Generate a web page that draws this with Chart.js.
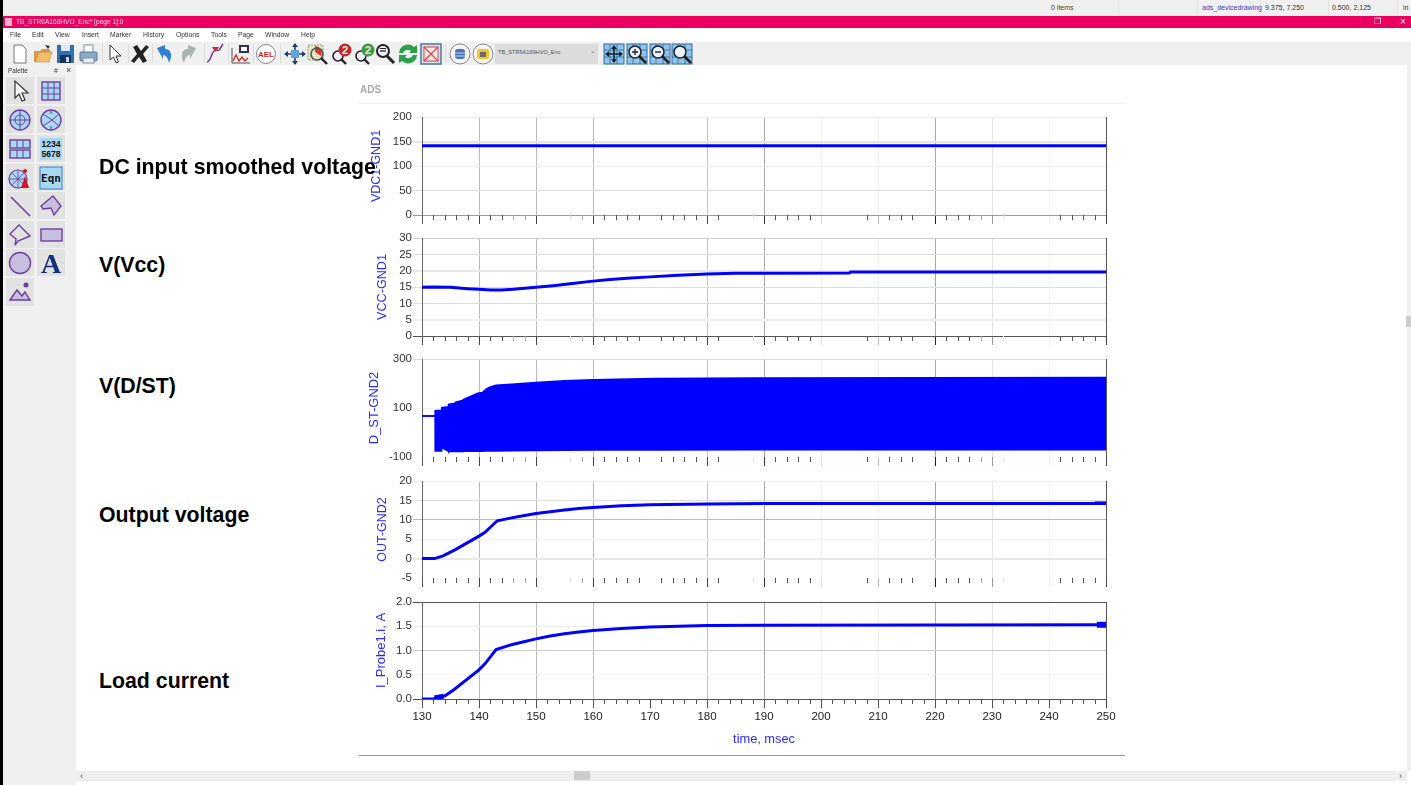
<!DOCTYPE html>
<html>
<head>
<meta charset="utf-8">
<title>ADS transient plots</title>
<script src="https://cdn.jsdelivr.net/npm/chart.js@4/dist/chart.umd.min.js"></script>
<style>
html,body{margin:0;padding:0;width:1411px;height:785px;overflow:hidden;background:#fff;font-family:'Liberation Sans',Arial,sans-serif}
.a{position:absolute}
.t{position:absolute;white-space:nowrap;line-height:1}
.chrome{filter:blur(.35px)}
canvas{position:absolute;display:block;filter:blur(.3px)}
.lbl{position:absolute;white-space:nowrap;font:bold 21.3px 'Liberation Sans',Arial,sans-serif;color:#000;left:99px;z-index:5;line-height:24px}
svg{position:absolute;overflow:visible}
</style>
</head>
<body>
<div id="ui" class="chrome"></div>
<canvas id="c1"></canvas><canvas id="c2"></canvas><canvas id="c3"></canvas><canvas id="c4"></canvas><canvas id="c5"></canvas>
<div class="lbl" style="top:155px">DC input smoothed voltage</div>
<div class="lbl" style="top:253px">V(Vcc)</div>
<div class="lbl" style="top:374px">V(D/ST)</div>
<div class="lbl" style="top:503px">Output voltage</div>
<div class="lbl" style="top:669px">Load current</div>
<script>
/* ---------- data ---------- */
const timeRange = [130, 250];
const vdcTime = [130, 250];
const vdcValues = [141.5, 141.5];
const vccTime = [130,132,135,138,140,142,144,146,150,153,156,160,163,166,170,175,180,185,190,205,205.2,250];
const vccValues = [14.9,15,14.9,14.5,14.3,14.1,14.1,14.3,14.9,15.4,16,16.8,17.3,17.7,18.1,18.6,19,19.2,19.2,19.3,19.6,19.6];
const dstTime = [130,132.3,132.31,133.4,133.45,134.6,134.65,135.8,135.85,137.2,137.25,139.8,140.6,141.3,142,143,145.7,150,155,160,171,188,250];
const dstUpper = [67,67,89,91,101,105,115,119,123,132,135,160,163,178,186,193,197,204,211,215,220,222,224];
const dstLower = [67,67,-76,-76,-62,-76,-78,-78,-78,-78,-77,-77,-77,-76,-76,-76,-75,-73,-72,-71,-71,-70,-70];
const outTime = [130,132.2,133.7,135.7,140,141,143.2,145.7,147.5,150,152.5,155,157.5,160,165,170,180,190,250];
const outValues = [0,0,0.7,2.2,5.8,6.7,9.75,10.5,11,11.6,12.1,12.5,12.9,13.2,13.6,13.85,14.1,14.2,14.2];
const outTailTime = [248,250];
const outTailValues = [14.3,14.3];
const loadTime = [130,132,133.7,134.2,135.7,140,141,143,145.7,147.5,150,152.5,155,157.5,160,165,170,175,180,190,250];
const loadValues = [0,0,0.05,0.08,0.2,0.6,0.72,1.02,1.12,1.17,1.24,1.3,1.345,1.38,1.41,1.455,1.485,1.5,1.515,1.52,1.53];
const loadNoiseTime = [132.2,133.8];
const loadNoiseValues = [0.02,0.06];
const loadTailTime = [248.4,250];
const loadTailValues = [1.53,1.53];
const xTicksMajorStep = 10;
const minorDark = [132,134,136,138,142,144,162,164,166,168,172,174,176,178,182,192,194,196,198,208,212,214,216,222,224,226,242,244,246,248];
const minorLight = [146,148,158,228];
const minorFaint = [156,188,232];
const minorAll = [132,134,136,138,142,144,146,148,152,154,156,158,162,164,166,168,172,174,176,178,182,184,186,188,192,194,196,198,202,204,206,208,212,214,216,218,222,224,226,228,232,234,236,238,242,244,246,248];
const gridColorByTime = {130:'#666',140:'#bbb',150:'#bbb',160:'#bbb',170:'transparent',180:'#c4c4c4',190:'#aaa',200:'#f0f0f0',210:'#eee',220:'#aaa',230:'#e4e4e4',240:'#f2f2f2',250:'#555'};
const tickColorByTime = {130:'#555',140:'#444',150:'#444',160:'#444',170:'transparent',180:'#444',190:'#333',200:'#ddd',210:'#bbb',220:'#222',230:'#999',240:'#eee',250:'#444'};
const tickColorBottom = {130:'#555',140:'#555',150:'#555',160:'#555',170:'#555',180:'#555',190:'#555',200:'#555',210:'#555',220:'#555',230:'#555',240:'#555',250:'#444'};

/* ---------- panel styling ---------- */
const FONT = "'Liberation Sans',Arial,sans-serif";
const BLUE = '#0000ff';
const AXISBLUE = '#2a2aff';
const CV_LEFT = 340, CV_W = 780, PLOT_L = 422, PLOT_R = 1106;

const minorTicksPlugin = {
  id: 'minorTicks',
  afterDatasetsDraw(chart, args, o) {
    const s = chart.scales.x, b = chart.chartArea.bottom, c = chart.ctx;
    c.save(); c.lineWidth = 1;
    (o.groups || []).forEach(g => {
      c.strokeStyle = g.color;
      g.values.forEach(v => {
        const x = Math.round(s.getPixelForValue(v)) + .5;
        c.beginPath(); c.moveTo(x, b); c.lineTo(x, b + 5); c.stroke();
      });
    });
    c.restore();
  }
};
const pts = (xs, ys) => xs.map((x, i) => ({x, y: ys[i]}));
const line = (xs, ys, w, extra) => Object.assign({data: pts(xs, ys), borderColor: BLUE, backgroundColor: BLUE, borderWidth: w, pointRadius: 0, tension: 0, fill: false}, extra || {});

function panel(id, top, bottom, cvBottom, titleCx, titleText, titleSize, yMin, yMax, yStep, yDecimals, yColors, yWide, datasets, isBottom) {
  const cv = document.getElementById(id);
  const cvTop = top - 8, h = cvBottom - cvTop;
  cv.width = CV_W; cv.height = h;
  cv.style.left = CV_LEFT + 'px'; cv.style.top = cvTop + 'px';
  cv.style.width = CV_W + 'px'; cv.style.height = h + 'px';
  const lh = titleSize * 1.2;
  const padL = titleCx - CV_LEFT - lh / 2;
  new Chart(cv, {
    type: 'line',
    data: {datasets},
    plugins: [minorTicksPlugin],
    options: {
      responsive: false, animation: false, events: [],
      layout: {padding: {left: padL, right: CV_W - (PLOT_R - CV_LEFT), top: 8, bottom: 0}},
      plugins: {
        legend: {display: false}, tooltip: {enabled: false},
        minorTicks: {groups: isBottom ? [{color: '#555', values: minorAll}] :
          [{color: '#555', values: minorDark}, {color: '#aaa', values: minorLight}, {color: '#e6e6e6', values: minorFaint}]}
      },
      scales: {
        x: {
          type: 'linear', min: timeRange[0], max: timeRange[1],
          afterFit(s) { s.height = cvBottom - bottom; },
          ticks: {display: isBottom, stepSize: xTicksMajorStep, autoSkip: false, maxRotation: 0, padding: 2, color: '#222', font: {family: FONT, size: 11.5}},
          border: {display: false},
          grid: {
            tickLength: 9,
            color: c => gridColorByTime[c.tick.value] || 'transparent',
            tickColor: c => (isBottom ? tickColorBottom : tickColorByTime)[c.tick.value] || 'transparent'
          },
          title: isBottom ? {display: true, text: 'time, msec', color: AXISBLUE, padding: 0, font: {family: FONT, size: 12.8}} : {display: false}
        },
        y: {
          type: 'linear', min: yMin, max: yMax,
          afterFit(s) { s.width = PLOT_L - CV_LEFT - padL; },
          ticks: {stepSize: yStep, autoSkip: false, padding: 1, color: '#333', font: {family: FONT, size: 11.5},
            callback: v => Number(v).toFixed(yDecimals)},
          border: {display: true, color: '#666', width: 1},
          grid: {
            tickLength: 9,
            color: c => yColors[String(c.tick.value)] || 'transparent',
            lineWidth: c => yWide.includes(c.tick.value) ? 2 : 1
          },
          title: {display: true, text: titleText, color: AXISBLUE, padding: 0, font: {family: FONT, size: titleSize}}
        }
      }
    }
  });
}

panel('c1', 117, 215, 225, 377, 'VDC1-GND1', 12.5, 0, 200, 50, 0,
  {'200':'#eee','150':'#e4e4e4','100':'#eee','50':'#ddd','0':'#999'}, [150],
  [line(vdcTime, vdcValues, 3)], false);
panel('c2', 238, 336, 346, 383, 'VCC-GND1', 12.6, 0, 30, 5, 0,
  {'30':'#ccc','25':'#ddd','20':'#e8e8e8','15':'#ddd','10':'#ddd','5':'#eee','0':'#555'}, [20,5],
  [line(vccTime, vccValues, 3)], false);
panel('c3', 359, 457, 467, 374, 'D_ST-GND2', 12.9, -100, 300, 200, 0,
  {'300':'#ddd','100':'#eee'}, [],
  [line(dstTime, dstUpper, 1.5, {fill: '+1', clip: false}), line(dstTime, dstLower, 1.5, {clip: false})], false);
panel('c4', 481, 578, 588, 383, 'OUT-GND2', 12.5, -5, 20, 5, 0,
  {'20':'#eee','15':'#ddd','10':'#bbb','5':'#f4f4f4','0':'#e8e8e8'}, [0],
  [line(outTime, outValues, 3), line(outTailTime, outTailValues, 3.5)], false);
panel('c5', 602, 699, 747, 381, 'I_Probe1.i, A', 13, 0, 2, 0.5, 1,
  {'2':'#555','1.5':'#eee','1':'#ccc','0.5':'#f4f4f4','0':'#555'}, [],
  [line(loadTime, loadValues, 3), line(loadNoiseTime, loadNoiseValues, 5), line(loadTailTime, loadTailValues, 6, {borderCapStyle: 'butt'})], true);

/* ---------- application chrome ---------- */
const ui = document.getElementById('ui');
function box(x, y, w, h, bg, extra) {
  const d = document.createElement('div'); d.className = 'a';
  d.style.cssText = `left:${x}px;top:${y}px;width:${w}px;height:${h}px;background:${bg};${extra || ''}`;
  ui.appendChild(d); return d;
}
function text(s, x, y, size, color, extra) {
  const d = document.createElement('div'); d.className = 't'; d.textContent = s;
  d.style.cssText = `left:${x}px;top:${y}px;font-size:${size}px;color:${color};${extra || ''}`;
  ui.appendChild(d);
}
function icon(x, y, body) {
  const d = document.createElementNS('http://www.w3.org/2000/svg', 'svg');
  d.setAttribute('width', 24); d.setAttribute('height', 24); d.setAttribute('viewBox', '0 0 24 24');
  d.style.left = x + 'px'; d.style.top = y + 'px'; d.innerHTML = body; ui.appendChild(d);
}
box(0, 0, 1411, 16, '#f0f0f0');
box(0, 16, 1411, 12, '#ea005e');
box(0, 28, 1411, 14, '#fff');
box(0, 42, 1411, 23, '#f0f0f0');
box(0, 65, 76, 720, '#f0f0f0');
box(76, 771, 1331, 10, '#eeeeee');
box(1407, 65, 4, 706, '#f0f0f0');
box(1406, 316, 5, 11, '#cdcdcd');
box(574, 771, 16, 9, '#cdcdcd');
box(0, 0, 3, 785, '#000');
box(359, 103, 766, 1, '#f0f0f0');
box(359, 755, 766, 1, '#999');
[1118, 1197, 1260, 1328, 1397].forEach(x => box(x, 0, 1, 15, '#e2e2e2'));
text('0 items', 1051, 4, 7, '#444');
text('ads_devicedrawing', 1202, 4, 7, '#3a3ad0');
text('9.375, 7.250', 1265, 4, 7, '#333');
text('0.500, 2.125', 1332, 4, 7, '#333');
text('in', 1403, 4, 7, '#333');
box(5, 18, 7, 8, '#f4b0c8');
text('TB_STR6A168HVO_Enc* [page 1]:0', 16, 19, 6.6, '#ffd7e6');
text('❐', 1374, 18, 8, '#fff');
text('×', 1400, 17, 10, '#fff');
const menus = [['File',10],['Edit',32],['View',55],['Insert',82],['Marker',110],['History',143],['Options',176],['Tools',211],['Page',238],['Window',265],['Help',301]];
menus.forEach(m => text(m[0], m[1], 32, 6.8, '#333'));
text('ADS', 360, 85, 10, '#aaa', 'font-weight:bold');
[102, 128, 152, 204, 228, 253, 280, 445, 605].forEach(x => box(x, 44, 1, 19, '#dcdcdc'));
box(495, 44, 103, 20, '#dcdcdc');
text('TB_STR6A169HVO_Enc', 498, 50, 5.6, '#555');
text('⌄', 590, 47, 7, '#777');

const ic = {
  doc: '<path d="M6 3h8l4 4v14H6z" fill="#fff" stroke="#777"/>',
  folder: '<path d="M3 9h6l2-2h8v3H8L5 20H3z" fill="#d99b4a"/><path d="M8 10h13l-3 10H4z" fill="#efbd6d" stroke="#b98a3d" stroke-width=".6"/><path d="M14 3l5 1-2 3z" fill="#333"/>',
  save: '<rect x="4" y="3" width="17" height="18" fill="#2e6fb7"/><rect x="8" y="3" width="9" height="6" fill="#dfe8f3"/><rect x="7" y="13" width="11" height="8" fill="#16345c"/><rect x="13" y="15" width="3" height="5" fill="#cfd9e6"/>',
  print: '<rect x="8" y="3" width="9" height="8" fill="#fff" stroke="#7c90a8"/><rect x="4" y="10" width="17" height="9" rx="1" fill="#8ea9c4" stroke="#5d7892"/><rect x="7" y="16" width="11" height="5" fill="#e9eef4" stroke="#7c90a8"/>',
  arrow: '<path d="M8 3v15l3.5-3 2.5 6 2.5-1-2.5-6h5z" fill="#fff" stroke="#333"/>',
  x: '<path d="M5 5l4-2 4 6 5-6 3 2-6 7 4 7-4 2-4-6-5 6-3-2 6-7z" fill="#222"/>',
  undo: '<path d="M4 6l8-3v4c6 0 8 6 4 14-1-5-3-8-6-8v4z" fill="#2f7fd0"/>',
  redo: '<path d="M20 6l-8-3v4C6 7 4 13 8 21c1-5 3-8 6-8v4z" fill="#a9b3b0"/>',
  wave: '<path d="M5 20c5-1 4-12 9-12s1 3 7-6" fill="none" stroke="#7a3fa5" stroke-width="1.6"/><path d="M10 5h7l-3.5 5z" fill="#d9272e"/>',
  chart: '<path d="M4 21V6M4 21h18" stroke="#555" fill="none"/><rect x="11" y="3" width="10" height="8" fill="#335" /><rect x="13" y="5" width="6" height="4" fill="#fff"/><path d="M5 19l3-6 3 6 3-4 3 4 3-3" stroke="#d22" fill="none" stroke-width="1.3"/>',
  ael: '<circle cx="12" cy="12" r="9.5" fill="#fff" stroke="#888"/><text x="12" y="15" font-size="8" font-weight="bold" text-anchor="middle" fill="#c22" font-family="Liberation Sans">AEL</text>',
  pan: '<path d="M12 2v20M2 12h20" stroke="#1c3f6c" stroke-width="1.6"/><path d="M12 1l-3 4h6zM12 23l-3-4h6zM1 12l4-3v6zM23 12l-4-3v6z" fill="#1c3f6c"/><rect x="8" y="8" width="8" height="8" fill="#5ea4dd"/>',
  zoomRed: '<rect x="3" y="3" width="15" height="15" fill="#e8e4c2" stroke="#8a8" stroke-dasharray="2 1"/><path d="M10 10V4a7 7 0 0 1 6 10z" fill="#d33"/><circle cx="12" cy="12" r="6" fill="none" stroke="#555" stroke-width="1.6"/><path d="M16 16l6 6" stroke="#222" stroke-width="2.4"/>',
  glass: '<circle cx="10" cy="9" r="6" fill="#eef" stroke="#222" stroke-width="2"/><path d="M14 14l7 7" stroke="#222" stroke-width="3"/><path d="M7 9h6" stroke="#222" stroke-width="1.3"/><path d="M7 6.5h6" stroke="#222" stroke-width="1"/>',
  m2r: '<circle cx="9" cy="14" r="5" fill="#eef" stroke="#222" stroke-width="1.6"/><path d="M12 17l5 5" stroke="#222" stroke-width="2.4"/><circle cx="16" cy="8" r="6.5" fill="#c62828"/><text x="16" y="12" font-size="11" font-weight="bold" text-anchor="middle" fill="#fff" font-family="Liberation Sans">2</text>',
  m2g: '<circle cx="9" cy="14" r="5" fill="#eef" stroke="#222" stroke-width="1.6"/><path d="M12 17l5 5" stroke="#222" stroke-width="2.4"/><circle cx="16" cy="8" r="6.5" fill="#3d9a3d"/><text x="16" y="12" font-size="11" font-weight="bold" text-anchor="middle" fill="#fff" font-family="Liberation Sans">2</text>',
  refresh: '<path d="M3 11a9 9 0 0 1 15-6l3-2v8h-8l2-2a5 5 0 0 0-8 2z" fill="#2aa04a"/><path d="M21 13a9 9 0 0 1-15 6l-3 2v-8h8l-2 2a5 5 0 0 0 8-2z" fill="#2aa04a"/>',
  redX: '<rect x="2" y="2" width="20" height="20" fill="#cfe0ee" stroke="#5a7fa5" stroke-width="1.6"/><rect x="5" y="5" width="14" height="14" fill="#f5e8e8" stroke="#d44"/><path d="M5 5l14 14M19 5L5 19" stroke="#d44" stroke-width="1.3"/>',
  db: '<circle cx="12" cy="12" r="10" fill="#f4f4f4" stroke="#888"/><rect x="7" y="7" width="10" height="10" rx="3" fill="#4c70c0"/><path d="M7 11h10M7 14h10" stroke="#cfe" stroke-width=".8"/>',
  dbY: '<circle cx="12" cy="12" r="10" fill="#f4f4f4" stroke="#888"/><rect x="6" y="7" width="12" height="10" rx="2" fill="#f2c81e"/><rect x="9" y="10" width="6" height="5" fill="#6d6a80"/>',
  grid: '<rect x="2" y="2" width="20" height="20" fill="#8fc4ec" stroke="#2c6aa5"/><path d="M2 8h20M2 15h20M8 2v20M15 2v20" stroke="#2c6aa5" stroke-width=".8"/>'
};
const gridPan = ic.grid + '<path d="M12 5v14M5 12h14" stroke="#122" stroke-width="1.6"/><path d="M12 3l-3 4h6zM12 21l-3-4h6zM3 12l4-3v6zM21 12l-4-3v6z" fill="#122"/>';
const gridG = m => ic.grid + `<circle cx="10" cy="10" r="6" fill="#e8f0f8" stroke="#222" stroke-width="1.6"/><path d="M14 14l7 7" stroke="#222" stroke-width="2.6"/><path d="${m}" stroke="#222" stroke-width="1.4"/>`;
const tools = [[8,ic.doc],[31,ic.folder],[53,ic.save],[76,ic.print],[102,ic.arrow],[128,ic.x],[153,ic.undo],[176,ic.redo],[202,ic.wave],[228,ic.chart],[254,ic.ael],
  [283,ic.pan],[305,ic.zoomRed],[329,ic.m2r],[352,ic.m2g],[373,ic.glass],[396,ic.refresh],[419,ic.redX],[448,ic.db],[471,ic.dbY],
  [602,gridPan],[625,gridG('M7 10h6M10 7v6')],[648,gridG('M7 10h6')],[670,gridG('')]];
tools.forEach(t => icon(t[0], 42, t[1]));

/* palette */
text('Palette', 8, 68, 6.4, '#333');
text('#', 54, 67, 7, '#444');
text('×', 66, 66, 9, '#444');
const rows = [77, 106, 135, 164, 192, 221, 249, 278];
const P = '#6c3fa0', L = '#c8bfe0';
const pal = [
  ['<path d="M7 2v17l4-4 3 7 3-1-3-7h6z" fill="#fff" stroke="#333" stroke-width="1.2"/>', `<rect x="3" y="3" width="18" height="18" fill="#a9d8f2" stroke="${P}" stroke-width="1.4"/><path d="M3 9h18M3 15h18M9 3v18M15 3v18" stroke="${P}"/>`],
  [`<circle cx="12" cy="12" r="10" fill="#a9d8f2" stroke="${P}" stroke-width="1.4"/><circle cx="12" cy="12" r="5" fill="none" stroke="${P}"/><path d="M2 12h20M12 2v20" stroke="${P}"/>`, `<circle cx="12" cy="12" r="10" fill="#a9d8f2" stroke="${P}" stroke-width="1.4"/><path d="M4 6l9 6-9 6M20 6l-7 6 7 6M12 2v4M12 18v4" stroke="${P}" fill="none"/>`],
  [`<rect x="2" y="3" width="20" height="8" fill="#a9d8f2" stroke="${P}" stroke-width="1.4"/><rect x="2" y="13" width="20" height="8" fill="#a9d8f2" stroke="${P}" stroke-width="1.4"/><path d="M9 3v8M15 3v8M9 13v8M15 13v8" stroke="${P}"/>`, `<rect x="1" y="1" width="22" height="22" fill="#a9d8f2"/><text x="12" y="10" font-size="8.6" font-weight="bold" text-anchor="middle" fill="#111" font-family="Liberation Sans">1234</text><text x="12" y="20" font-size="8.6" font-weight="bold" text-anchor="middle" fill="#111" font-family="Liberation Sans">5678</text>`],
  [`<circle cx="10" cy="13" r="9" fill="#a9d8f2" stroke="${P}" stroke-width="1.2"/><path d="M1 13h18M10 4v18M4 7l12 12M16 7L4 19" stroke="${P}" stroke-width=".8"/><path d="M17 10l4 12h-8z" fill="#e01020"/><circle cx="17" cy="5" r="2" fill="#e01020"/>`, `<rect x="1" y="1" width="22" height="22" fill="#a9d8f2" stroke="#3a7abf"/><text x="12" y="16" font-size="11" font-weight="bold" text-anchor="middle" fill="#111" font-family="DejaVu Sans Mono">Eqn</text>`],
  [`<path d="M3 3l19 19" stroke="${P}" stroke-width="1.6"/>`, `<path d="M2 12L14 2l8 10-7 9-3-7-8 1z" fill="${L}" stroke="${P}" stroke-width="1.4"/>`],
  [`<path d="M2 11L11 2l11 11-12 5-3 4 1-6z" fill="none" stroke="${P}" stroke-width="1.4"/>`, `<rect x="2" y="6" width="21" height="12" fill="${L}" stroke="${P}" stroke-width="1.4"/>`],
  [`<circle cx="12" cy="12" r="10.5" fill="${L}" stroke="${P}" stroke-width="1.4"/>`, `<text x="12" y="22" font-size="28" font-weight="bold" text-anchor="middle" fill="#15307a" font-family="Liberation Serif">A</text>`],
  [`<path d="M2 20l7-10 5 6 3-4 5 8z" fill="${L}" stroke="${P}" stroke-width="1.4"/><circle cx="18" cy="5" r="2.5" fill="${P}"/>`, null]
];
rows.forEach((y, r) => {
  pal[r].forEach((b, c) => {
    const x = c ? 37 : 6;
    if (!b) return;
    box(x, y, 28, r === 7 ? 28 : 27, '#e2e2e2');
    icon(x + 2, y + 2, b);
  });
});
text('‹', 80, 772, 9, '#555');
text('›', 1399, 772, 9, '#555');
</script>
</body>
</html>
